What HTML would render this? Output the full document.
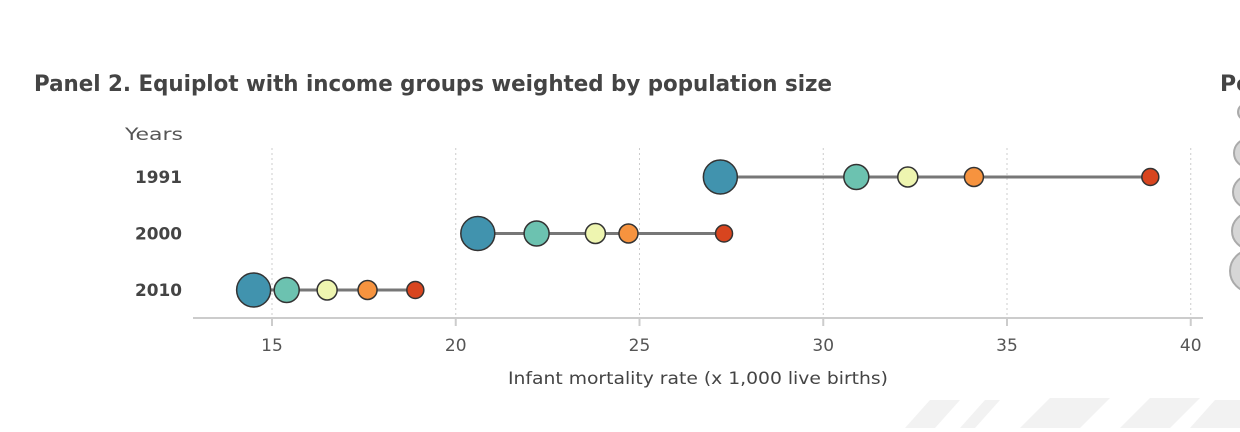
<!DOCTYPE html>
<html><head><meta charset="utf-8"><style>
body{margin:0;background:#fff;width:1240px;height:428px;overflow:hidden;font-family:"DejaVu Sans","Liberation Sans",sans-serif}
</style></head><body>
<svg id="c" width="1240" height="428" xmlns="http://www.w3.org/2000/svg">
<text x="34" y="91" font-size="22" font-weight="bold" fill="#444" textLength="798" lengthAdjust="spacingAndGlyphs">Panel 2. Equiplot with income groups weighted by population size</text>
<text x="1220" y="91" font-size="22" font-weight="bold" fill="#444">Po</text>
<g fill="#d6d6d6" stroke="#aaa" stroke-width="2">
<circle cx="1246" cy="112" r="8"/><circle cx="1248" cy="153" r="14"/><circle cx="1249" cy="192" r="16"/><circle cx="1250" cy="231" r="18"/><circle cx="1251" cy="271" r="21"/>
</g>
<g fill="#f2f2f2">
<polygon points="905,428 930,400 960,400 935,428"/><polygon points="960,428 985,400 1000,400 975,428"/><polygon points="1020,428 1050,398 1110,398 1080,428"/><polygon points="1120,428 1150,398 1200,398 1170,428"/><polygon points="1190,428 1215,400 1240,400 1240,428"/>
</g>
<text x="125" y="140" font-size="17" fill="#555" textLength="58" lengthAdjust="spacingAndGlyphs">Years</text>
<g id="grid"></g><g id="rows"></g><g id="ticks"></g>
<line x1="193" y1="318" x2="1203" y2="318" stroke="#ccc" stroke-width="2"/>
<text x="508" y="384" font-size="17" fill="#444" textLength="380" lengthAdjust="spacingAndGlyphs">Infant mortality rate (x 1,000 live births)</text>
</svg>
<script>
const years=["1991","2000","2010"];
const q1=[27.2,20.6,14.5];
const q2=[30.9,22.2,15.4];
const q3=[32.3,23.8,16.5];
const q4=[34.1,24.7,17.6];
const q5=[38.9,27.3,18.9];
const radii=[17,12.5,10,9.5,8.5];
const colors=["#4193ae","#6cc2b0","#eef5b0","#f6933f","#d8451f"];
const ticks=[15,20,25,30,35,40];
const NS="http://www.w3.org/2000/svg";
const x=v=>272+(v-15)*36.75;
const y=i=>177+i*56.5;
function mk(t,a,p){const e=document.createElementNS(NS,t);for(const k in a)e.setAttribute(k,a[k]);p.appendChild(e);return e;}
const g=document.getElementById('grid'),tk=document.getElementById('ticks'),rw=document.getElementById('rows');
ticks.forEach(t=>{
 const l=mk('line',{x1:x(t),x2:x(t),y1:148,y2:318,stroke:'#ccc','stroke-dasharray':'2,3'},g);
 
 
 const m=mk('line',{x1:x(t),x2:x(t),y1:318,y2:326,stroke:'#ccc','stroke-width':2},tk);
 
 
 const s=mk('text',{x:x(t),y:351,'font-size':17,fill:'#555','text-anchor':'middle'},tk);s.textContent=t;
 
 
});
const series=[q1,q2,q3,q4,q5];
years.forEach((yr,i)=>{
 const lb=mk('text',{x:135,y:y(i)+6,'font-size':17,'font-weight':'bold',fill:'#444',textLength:47,lengthAdjust:'spacingAndGlyphs'},rw);lb.textContent=yr;
 
 
 const vals=series.map(s=>s[i]);
 const ln=mk('line',{x1:x(Math.min(...vals)),x2:x(Math.max(...vals)),y1:y(i),y2:y(i),stroke:'#777','stroke-width':3},rw);
 
 
 for(let k=4;k>=0;k--){
  const c=mk('circle',{cx:x(vals[k]),cy:y(i),r:radii[k],fill:colors[k],stroke:'#333','stroke-width':1.5},rw);
  
  
 }
});
</script>
</body></html>
